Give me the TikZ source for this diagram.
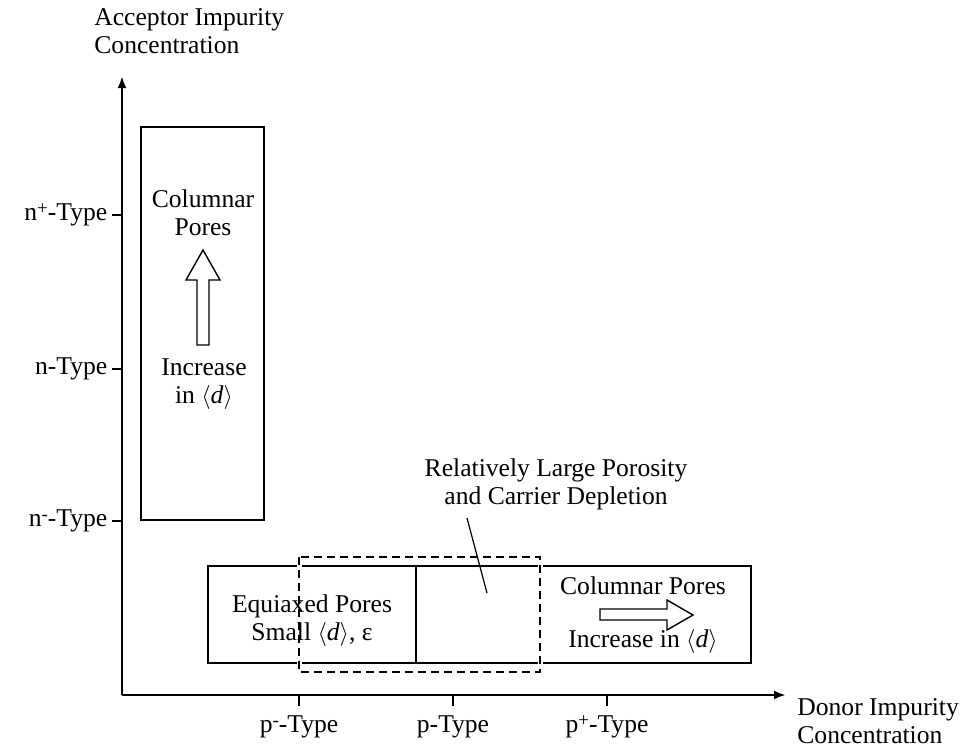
\documentclass[tikz,border=0pt]{standalone}
\usepackage{fontspec}
\setmainfont{Liberation Serif}
\usetikzlibrary{arrows.meta}

\newcommand\upsign[1]{\raisebox{0.55ex}{\fontsize{9.5}{9.5}\selectfont #1}}
\newcommand\meand{$\langle$\textit{d}$\rangle$}

\begin{document}
\begin{tikzpicture}
    [   x = 0.5pt, y = -0.5pt
    ,   font = \fontsize{12.8}{14}\selectfont
    ,   axis/.style = {line width = 1.3pt, -{Latex[length=6pt,width=4.5pt]}}
    ,   tick/.style = {line width = 0.7pt}
    ,   region/.style = {draw, line width = 1.2pt}
    ,   halo/.style = {draw = white, line width = 2.5pt}
    ,   overlap/.style =
        {   draw
        ,   line width = 0.7pt
        ,   dash pattern = on 4pt off 2.5pt
        }
    ,   blockarrow/.style = {draw, line width = 0.7pt, fill = white}
    ,   label/.style = {align = center, inner sep = 0mm}
    ]
    \useasboundingbox (0,0) rectangle (970,746);

    % axes
    \coordinate (O) at (122,695);
    \coordinate (Ytip) at (122,76);
    \coordinate (Xtip) at (786,695);
    \draw[axis] (O) -- (Ytip);
    \draw[axis] (O) -- (Xtip);
    \node[anchor = north west, align = left, inner sep = 0mm] (ylabel) at (94,8)
        {Acceptor Impurity\\Concentration};
    \node[anchor = west, align = left, inner sep = 0mm] (xlabel) at (797,721)
        {Donor Impurity\\Concentration};
    \foreach\y/\t in {215/n\upsign{+}-Type, 369/n-Type, 521/n\upsign{-}-Type}
    {   \draw[tick] (122,\y) -- ++(-10,0) node[left, inner sep = 2pt] {\t};
    }
    \foreach\x/\t in {299/p\upsign{-}-Type, 453/p-Type, 607/p\upsign{+}-Type}
    {   \draw[tick] (\x,695) -- ++(0,11) node[below, inner sep = 4.5pt] {\t};
    }

    % n-type region
    \draw[region] (141,127) rectangle (264,520);
    \node[label] (colN) at (203,213) {Columnar\\Pores};
    \draw[blockarrow] (197,345) -- (197,280) -- (186,280) -- (203,250)
        -- (220,280) -- (209,280) -- (209,345) -- cycle;
    \node[label] (incN) at (204,384) {Increase\\in \meand};

    % p-type region
    \draw[region] (208,566) rectangle (751,663);
    \draw[region] (416,566) -- (416,663);
    \draw[halo] (299,557) rectangle (540,672);
    \draw[overlap] (299,557) rectangle (540,672);
    \node[label] (equi) at (312,621) {Equiaxed Pores\\Small \meand, ε};
    \node[label] (colP) at (643,586) {Columnar Pores};
    \draw[blockarrow] (600,609) -- (667,609) -- (667,600) -- (693,615)
        -- (667,630) -- (667,620) -- (600,620) -- cycle;
    \node[label] (incP) at (643,641) {Increase in \meand};

    % depletion label
    \node[label] (depl) at (556,484) {Relatively Large Porosity\\and Carrier Depletion};
    \coordinate (leadA) at (467,518);
    \coordinate (leadB) at (487,593);
    \draw[line width = 0.6pt] (leadA) -- (leadB);

\end{tikzpicture}
\end{document}
